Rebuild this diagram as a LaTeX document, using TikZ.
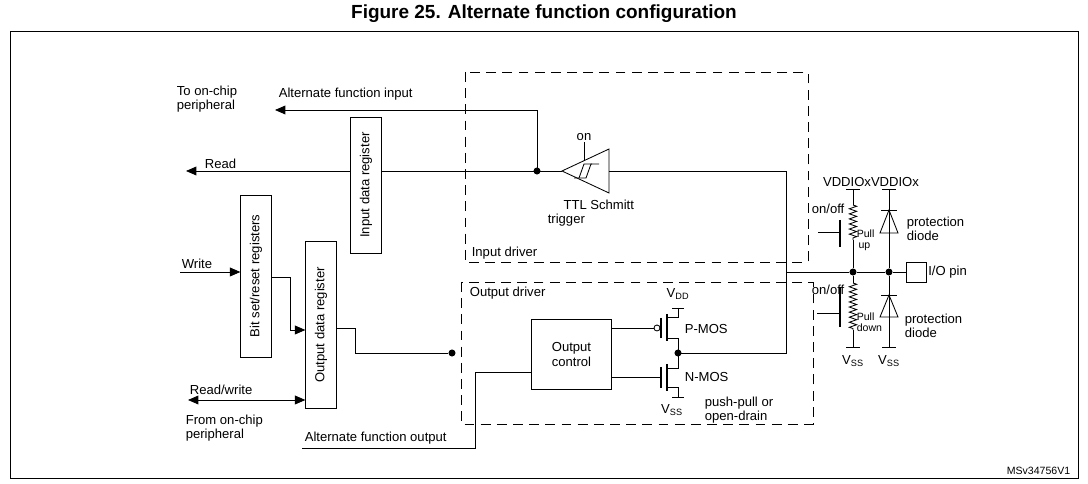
\documentclass[tikz,border=0pt]{standalone}
\usepackage{fontspec}
\setmainfont{Liberation Sans}
\usetikzlibrary{arrows.meta, positioning, decorations.pathmorphing}

\begin{document}
\begin{tikzpicture}[
            x=0.025cm, y=-0.025cm,
            font=\fontsize{9.3}{10.3}\selectfont,
            line width=0.6pt,
            every node/.style={inner sep=1pt},
            reg/.style={rectangle, draw, fill=white, minimum width=0.76cm, inner sep=0pt},
            arrow/.style={-{Triangle[length=2.6mm, width=2.2mm]}},
            driver/.style={draw, line width=0.5pt, dash pattern=on 7pt off 4.5pt},
            dot/.style={circle, fill, inner sep=0pt, minimum size=5pt},
            rail/.style={line width=0.9pt},
            res/.style={decorate, decoration={zigzag, segment length=3.6pt, amplitude=2.6pt}},
            small/.style={font=\fontsize{7.5}{8}\selectfont, align=left}
        ]
            \useasboundingbox (0,0) rectangle (1088,484);
            \node[font=\fontsize{13.5}{15}\selectfont\bfseries] (title) at (544,14) {Figure 25. Alternate function configuration};
            \draw (10,31) rectangle (1078,478);
            \node[anchor=south east, font=\fontsize{7.5}{8}\selectfont] (ref) at (1072,476) {MSv34756V1};

            % driver frames
            \draw[driver] (465,72) rectangle (808,262);
            \draw[driver] (461,282) rectangle (813,424);
            \node[anchor=south west] (indrv) at (470,261) {Input driver};
            \node[anchor=north west] (outdrv) at (468,285) {Output driver};

            % registers
            \node[reg, minimum height=3.4cm] (idr) at (366,185) {\rotatebox{90}{Input data register}};
            \node[reg, minimum height=4.05cm] (bsr) at (256,276) {\rotatebox{90}{Bit set/reset registers}};
            \node[reg, minimum height=4.17cm] (odr) at (321,325) {\rotatebox{90}{Output data register}};
            \node[rectangle, draw, minimum width=1.98cm, minimum height=1.73cm, align=center] (ctrl) at (571.5,354.5) {Output\\control};

            % input path
            \coordinate (jin) at (537,171);
            \coordinate (afin) at (275,110);
            \coordinate (rd) at (186,171);
            \coordinate (stin) at (609,171);
            \coordinate (bus) at (786,272);
            \coordinate (mid) at (678,353);
            \node[dot] (jdot) at (jin) {};
            \draw[arrow] (jin) |- (afin);
            \node[anchor=south west] (afilbl) at (277,102) {Alternate function input};
            \node[anchor=north west, align=left] (tochip) at (175,84) {To on-chip\\peripheral};
            \draw (jin) -- (idr.east |- jin);
            \draw[arrow] (idr.west |- rd) -- (rd);
            \node[anchor=south west] (rdlbl) at (203,170) {Read};
            \draw (jin) -- (562,171);
            \draw (562,171) -- (609,149) -- (609,193) -- cycle;
            \draw (574,178) -- (586,178) -- (591,164) -- (599,164);
            \draw (579,178) -- (584,164) -- (592,164);
            \draw (584,160) -- (584,142);
            \node[anchor=south] (on) at (584,142) {on};
            \node[align=left, anchor=north west] (stlbl) at (546,198) {\hspace*{1.2em}TTL Schmitt\\trigger};
            \draw (stin) -- (786,171) -- (786,353) -- (mid);

            % write side
            \coordinate (wr) at (180,272);
            \draw[arrow] (wr) -- (bsr.west |- wr);
            \node[anchor=south west] (wrlbl) at (180,270) {Write};
            \draw[arrow] (bsr.east |- 0,277) -- (290,277) |- (odr.west |- 0,330);
            \coordinate (rw) at (188,400);
            \draw[{Triangle[length=2.6mm, width=2.2mm]}-{Triangle[length=2.6mm, width=2.2mm]}] (rw) -- (odr.west |- rw);
            \node[anchor=south west] (rwlbl) at (188,396) {Read/write};
            \node[anchor=north west, align=left] (fromchip) at (184,413) {From on-chip\\peripheral};
            \node[dot] (odot) at (452,353) {};
            \draw (odr.east |- 0,328) -- (355,328) |- (odot);
            \coordinate (afo) at (302,448);
            \draw (ctrl.west |- 0,372) -- (475,372) |- (afo);
            \node[anchor=south west] (afolbl) at (303,446) {Alternate function output};

            % output transistors
            \draw (ctrl.east |- 0,328) -- (654,328);
            \draw (657,328) circle (3);
            \draw[rail] (661,318) -- (661,338);
            \draw[rail] (667,314) -- (667,341);
            \draw (672,308) -- (684,308);
            \draw (678,308) -- (678,317) -- (667,317);
            \draw (667,338) -- (678,338) -- (mid);
            \node (vdd) at (678,294) {V\textsubscript{DD}};
            \node[anchor=west] (pmos) at (683,329) {P-MOS};
            \draw (ctrl.east |- 0,377) -- (661,377);
            \draw[rail] (661,367) -- (661,388);
            \draw[rail] (667,364) -- (667,391);
            \draw (667,368) -- (678,368) -- (mid);
            \draw (667,387) -- (678,387) -- (678,397);
            \draw (672,397) -- (684,397);
            \node (vssn) at (672,410) {V\textsubscript{SS}};
            \node[anchor=west] (nmos) at (683,377) {N-MOS};
            \node[anchor=north west, align=left] (pp) at (703,395) {push-pull or\\open-drain};
            \node[dot] (mdot) at (mid) {};

            % pin side
            \node[rectangle, draw, minimum width=0.5cm, minimum height=0.5cm] (pin) at (916,272) {};
            \node[anchor=west] (pinlbl) at (pin.east) {I/O pin};
            \node[dot] (pu) at (853,272) {};
            \node[dot] (pd) at (889,272) {};
            \draw (bus) -- (pu) -- (pd) -- (pin);
            \node[anchor=south] (vddio) at (871,188) {VDDIOxVDDIOx};
            % pull up / pull down
            \draw (846,189) -- (860,189);
            \draw (853,189) -- (853,205);
            \draw[res] (853,205) -- (853,240);
            \draw (853,240) -- (pu);
            \draw[rail] (840,220) -- (840,247);
            \draw (818,232) -- (840,232);
            \node[anchor=south west] (onoff1) at (810,215) {on/off};
            \node[small, anchor=north west] (pullup) at (855,228) {Pull\\\,up};
            \draw (pu) -- (853,283);
            \draw[res] (853,283) -- (853,330);
            \draw (853,330) -- (853,347);
            \draw (846,347) -- (860,347);
            \draw[rail] (840,287) -- (840,327);
            \draw (817,313) -- (840,313);
            \node[anchor=south west] (onoff2) at (810,296) {on/off};
            \node[small, anchor=north west] (pulldn) at (855,311) {Pull\\down};
            \node (vss1) at (853,361) {V\textsubscript{SS}};
            % protection diodes
            \draw (882,189) -- (896,189);
            \draw (889,189) -- (889,233);
            \draw (881,210) -- (897,210);
            \draw (889,210) -- (880,233) -- (898,233) -- cycle;
            \draw (889,233) -- (pd);
            \draw (pd) -- (889,347);
            \draw (881,295) -- (897,295);
            \draw (889,295) -- (880,317) -- (898,317) -- cycle;
            \draw (882,347) -- (896,347);
            \node (vss2) at (889,361) {V\textsubscript{SS}};
            \node[anchor=west, align=left] (pdu) at (905,229) {protection\\diode};
            \node[anchor=west, align=left] (pdl) at (903,326) {protection\\diode};
        \end{tikzpicture}
\end{document}
